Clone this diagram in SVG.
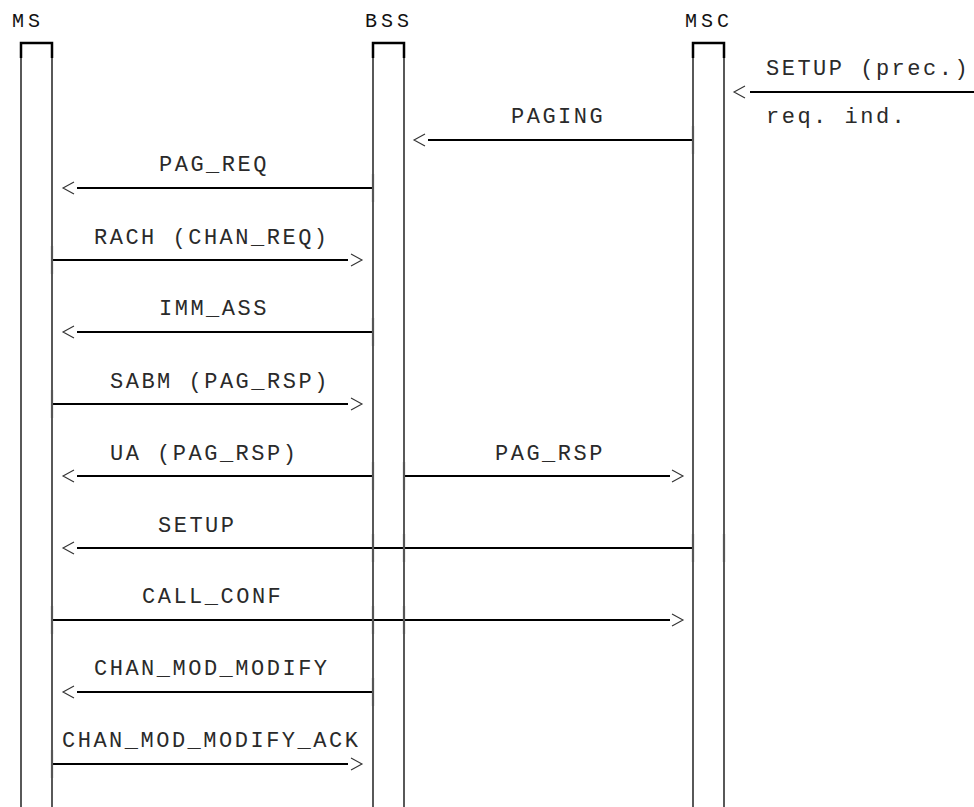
<svg xmlns="http://www.w3.org/2000/svg" width="974" height="807" viewBox="0 0 974 807">
<style>
.hdr{font-family:"Liberation Mono","DejaVu Sans Mono",monospace;font-size:20px;letter-spacing:4px;fill:#111}
.lbl{font-family:"Liberation Mono","DejaVu Sans Mono",monospace;font-size:22px;letter-spacing:2.5px;fill:#2a2a2a}
.life{fill:none;stroke:#000;stroke-width:1.3}
.top{fill:none;stroke:#000;stroke-width:2.5}
.msg{fill:none;stroke:#000;stroke-width:2.2}
.head{fill:none;stroke:#333;stroke-width:1.1}
.tick{stroke:#555;stroke-width:2.2}
</style>
<rect width="974" height="807" fill="#fff"/>
<g id="MS">
<text class="hdr" x="12" y="27">MS</text>
<path class="life" d="M21,43V807M52,43V807"/>
<path class="top" d="M21,58V43H52V58"/>
</g>
<g id="BSS">
<text class="hdr" x="365" y="27">BSS</text>
<path class="life" d="M373,43V807M404,43V807"/>
<path class="top" d="M373,58V43H404V58"/>
</g>
<g id="MSC">
<text class="hdr" x="685" y="27">MSC</text>
<path class="life" d="M693,43V807M724,43V807"/>
<path class="top" d="M693,58V43H724V58"/>
</g>
<g id="connectors">
<!-- SETUP (prec.) -->
<path class="msg" d="M750,92H974"/>
<path class="head" d="M745,86L734,92L745,98"/>
<text class="lbl" x="766" y="75">SETUP (prec.)</text>
<text class="lbl" x="766" y="123">req. ind.</text>
<!-- PAGING -->
<path class="msg" d="M428,140H693"/>
<path class="head" d="M425,134L414,140L425,146"/>
<path class="tick" d="M693,126V154"/>
<text class="lbl" x="511" y="123">PAGING</text>
<!-- PAG_REQ -->
<path class="msg" d="M77,188H373"/>
<path class="head" d="M74,182L63,188L74,194"/>
<path class="tick" d="M373,174V202"/>
<text class="lbl" x="159" y="171">PAG_REQ</text>
<!-- RACH -->
<path class="msg" d="M52,260H348"/>
<path class="head" d="M351,254L362,260L351,266"/>
<path class="tick" d="M52,246V274"/>
<text class="lbl" x="94" y="244">RACH (CHAN_REQ)</text>
<!-- IMM_ASS -->
<path class="msg" d="M77,332H373"/>
<path class="head" d="M74,326L63,332L74,338"/>
<path class="tick" d="M373,318V346"/>
<text class="lbl" x="159" y="315">IMM_ASS</text>
<!-- SABM -->
<path class="msg" d="M52,404H348"/>
<path class="head" d="M351,398L362,404L351,410"/>
<path class="tick" d="M52,390V418"/>
<text class="lbl" x="110" y="388">SABM (PAG_RSP)</text>
<!-- UA -->
<path class="msg" d="M77,476H373"/>
<path class="head" d="M74,470L63,476L74,482"/>
<path class="tick" d="M373,462V490"/>
<text class="lbl" x="110" y="460">UA (PAG_RSP)</text>
<!-- PAG_RSP -->
<path class="msg" d="M405,476H670"/>
<path class="head" d="M672,470L683,476L672,482"/>
<path class="tick" d="M404,462V490"/>
<text class="lbl" x="495" y="460">PAG_RSP</text>
<!-- SETUP -->
<path class="msg" d="M77,548H693"/>
<path class="head" d="M74,542L63,548L74,554"/>
<path class="tick" d="M373,534V562M404,534V562M693,534V562M724,534V562"/>
<text class="lbl" x="158" y="532">SETUP</text>
<!-- CALL_CONF -->
<path class="msg" d="M52,620H670"/>
<path class="head" d="M672,614L683,620L672,626"/>
<path class="tick" d="M52,606V634M373,606V634M404,606V634"/>
<text class="lbl" x="142" y="603">CALL_CONF</text>
<!-- CHAN_MOD_MODIFY -->
<path class="msg" d="M77,692H373"/>
<path class="head" d="M74,686L63,692L74,698"/>
<path class="tick" d="M373,678V706"/>
<text class="lbl" x="94" y="675">CHAN_MOD_MODIFY</text>
<!-- CHAN_MOD_MODIFY_ACK -->
<path class="msg" d="M52,764H348"/>
<path class="head" d="M351,758L362,764L351,770"/>
<path class="tick" d="M52,750V778"/>
<text class="lbl" x="62" y="747">CHAN_MOD_MODIFY_ACK</text>
</g>
</svg>
